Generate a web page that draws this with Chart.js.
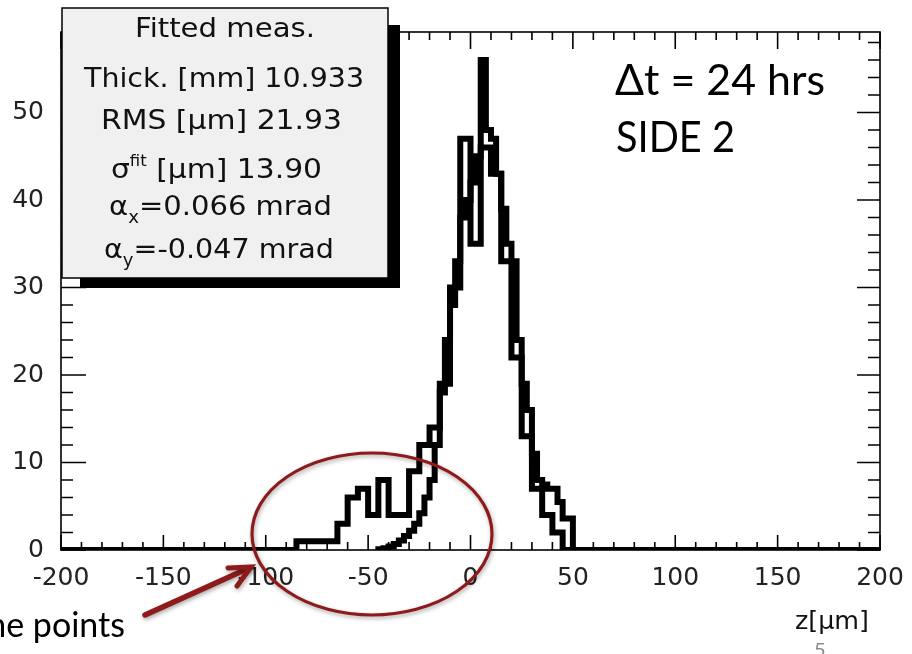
<!DOCTYPE html>
<html>
<head>
<meta charset="utf-8">
<script src="https://cdn.jsdelivr.net/npm/chart.js@4.4.1/dist/chart.umd.min.js"></script>
<style>
  html, body { margin: 0; padding: 0; background: #fff; }
  #wrap { width: 912px; height: 654px; }
</style>
</head>
<body>
<div id="wrap"><canvas id="zhist" width="912" height="654"></canvas></div>
<script>
// z residuals, measured points: 5 um bins from -200 to 200
const binStartA = -200;
const binWidthA = 5;
const countsA = [
  0, 0, 0, 0, 0, 0, 0, 0, 0, 0,
  0, 0, 0, 0, 0, 0, 0, 0, 0, 0,
  0, 0, 0, 1, 1, 1, 1, 3, 6, 7,
  4, 8, 4, 4, 9, 12, 14, 19, 30, 47,
  35, 46, 43, 33, 22, 13, 7, 4, 2, 0,
  0, 0, 0, 0, 0, 0, 0, 0, 0, 0,
  0, 0, 0, 0, 0, 0, 0, 0, 0, 0,
  0, 0, 0, 0, 0, 0, 0, 0, 0, 0
];

// fitted measurement: 2.5 um bins from -45 to 50
const binStartB = -45;
const binWidthB = 2.5;
const countsB = [
  0.1, 0.2, 0.4, 0.7, 1.1, 1.6, 2.2, 3.0, 4.2, 6.0,
  8, 12, 18, 24, 28, 33, 38, 40, 42, 45,
  56, 48, 47, 43, 39, 35, 33, 24, 19, 16,
  11, 8, 7.5, 7, 7, 5.5, 3.6, 3.6
];

const xTickValues = [-200, -150, -100, -50, 0, 50, 100, 150, 200];
const yTickValues = [0, 10, 20, 30, 40, 50];
const zRange = [-200, 200];
const yMax = 59.2;

const statLines = [
  [{ t: 'Fitted meas.' }],
  [{ t: 'Thick. [mm] 10.933' }],
  [{ t: 'RMS [\u00b5m] 21.93' }],
  [{ t: '\u03c3' }, { t: 'fit', size: 15, dy: -12 }, { t: ' [\u00b5m] 13.90' }],
  [{ t: '\u03b1' }, { t: 'x', size: 17, dy: 8 }, { t: '=0.066 mrad' }],
  [{ t: '\u03b1' }, { t: 'y', size: 17, dy: 8 }, { t: '=-0.047 mrad' }]
];

// histogram outline as a stepped polyline through the bin edges
// ('before' draws the horizontal part first, so each count spans its own bin)
function stepPoints(start, width, counts) {
  const pts = [{ x: start, y: 0 }];
  counts.forEach((c, i) => pts.push({ x: start + i * width, y: c }));
  const end = start + counts.length * width;
  pts.push({ x: end, y: counts[counts.length - 1] });
  pts.push({ x: end, y: 0 });
  return pts;
}

// draws a run of text pieces squeezed or stretched to a given width
function drawFitted(ctx, parts, family, baseSize, left, base, width) {
  const widths = parts.map(p => {
    ctx.font = (p.size || baseSize) + 'px ' + family;
    return ctx.measureText(p.t).width;
  });
  const total = widths.reduce((s, w) => s + w, 0);
  ctx.save();
  ctx.translate(left, base);
  ctx.scale(width / total, 1);
  ctx.textAlign = 'left';
  ctx.textBaseline = 'alphabetic';
  let cx = 0;
  parts.forEach((p, i) => {
    ctx.font = (p.size || baseSize) + 'px ' + family;
    ctx.fillText(p.t, cx, p.dy || 0);
    cx += widths[i];
  });
  ctx.restore();
}

const frameTicks = {
  id: 'frameTicks',
  afterDatasetsDraw(chart) {
    const { ctx, chartArea: a, scales: { x, y } } = chart;
    ctx.save();
    ctx.strokeStyle = '#000';
    ctx.lineWidth = 1.6;
    ctx.strokeRect(a.left, a.top, a.right - a.left, a.bottom - a.top);
    ctx.beginPath();
    for (let v = zRange[0]; v <= zRange[1]; v += 10) {
      const px = x.getPixelForValue(v);
      const major = v % 50 === 0;
      ctx.moveTo(px, a.bottom); ctx.lineTo(px, a.bottom - (major ? 15 : 8));
      ctx.moveTo(px, a.top); ctx.lineTo(px, a.top + (major ? 17 : 8));
    }
    for (let v = 0; v < yMax; v += 2) {
      const py = y.getPixelForValue(v);
      const major = v % 10 === 0;
      ctx.moveTo(a.left, py); ctx.lineTo(a.left + (major ? 25 : 12), py);
      ctx.moveTo(a.right, py); ctx.lineTo(a.right - (major ? 23 : 12), py);
    }
    ctx.stroke();
    ctx.restore();
  },
  afterDraw(chart) {
    const { ctx } = chart;
    ctx.save();

    // stats box with its drop shadow
    ctx.fillStyle = '#000';
    ctx.fillRect(388, 25, 12, 263);
    ctx.fillRect(80, 278, 320, 10);
    ctx.fillStyle = '#f0f0f0';
    ctx.fillRect(62, 8, 326, 270);
    ctx.strokeStyle = '#000';
    ctx.lineWidth = 1.5;
    ctx.strokeRect(62, 8, 326, 270);
    ctx.fillStyle = '#111';
    const boxes = [[135, 37, 180], [84, 87, 280], [101, 129, 241], [111, 178, 211], [109, 215, 223], [104, 258, 230]];
    statLines.forEach((parts, i) => {
      const [l, b, w] = boxes[i];
      drawFitted(ctx, parts, '"DejaVu Sans"', 27, l, b, w);
    });

    // axis title and slide number
    drawFitted(ctx, [{ t: 'z[\u00b5m]' }], '"DejaVu Sans"', 24, 795, 629, 74);
    ctx.fillStyle = '#888';
    ctx.font = '20px Lato';
    ctx.fillText('5', 814, 657);

    // annotation text
    ctx.fillStyle = '#000';
    drawFitted(ctx, [{ t: '\u0394t = 24 hrs' }], 'Lato', 43, 615, 95, 210);
    drawFitted(ctx, [{ t: 'SIDE 2' }], 'Lato', 43, 616, 152, 119);
    ctx.font = '34px Lato';
    ctx.textAlign = 'right';
    ctx.fillText('ne points', 125, 637);
    ctx.textAlign = 'left';

    // red ellipse around the tail and arrow pointing at it
    const red = '#8e1b1b';
    ctx.shadowColor = 'rgba(0,0,0,0.35)';
    ctx.shadowBlur = 4;
    ctx.shadowOffsetX = 1;
    ctx.shadowOffsetY = 2;
    ctx.strokeStyle = red;
    ctx.lineWidth = 3.2;
    ctx.beginPath();
    ctx.ellipse(372, 534, 120, 81, 0, 0, Math.PI * 2);
    ctx.stroke();

    ctx.lineWidth = 5.5;
    ctx.lineCap = 'round';
    ctx.beginPath();
    ctx.moveTo(145, 615);
    ctx.lineTo(249, 568);
    ctx.stroke();
    ctx.lineWidth = 5;
    ctx.beginPath();
    ctx.moveTo(228, 568);
    ctx.lineTo(251, 567);
    ctx.lineTo(237, 586);
    ctx.stroke();
    ctx.restore();
  }
};

const tickFont = { family: '"DejaVu Sans"', size: 25 };

new Chart(document.getElementById('zhist'), {
  type: 'line',
  data: {
    datasets: [
      {
        label: 'measured',
        data: stepPoints(binStartA, binWidthA, countsA),
        stepped: 'before',
        borderColor: '#000',
        borderWidth: 6,
        pointRadius: 0,
        fill: false
      },
      {
        label: 'fitted',
        data: stepPoints(binStartB, binWidthB, countsB),
        stepped: 'before',
        borderColor: '#000',
        borderWidth: 6,
        pointRadius: 0,
        fill: false
      }
    ]
  },
  options: {
    responsive: false,
    animation: false,
    layout: { padding: { top: 32, right: 32, left: 0, bottom: 0 } },
    plugins: { legend: { display: false }, tooltip: { enabled: false } },
    scales: {
      x: {
        type: 'linear',
        min: zRange[0],
        max: zRange[1],
        grid: { display: false },
        border: { display: false },
        ticks: { font: tickFont, color: '#222', padding: 5, maxRotation: 0 },
        afterBuildTicks: s => { s.ticks = xTickValues.map(v => ({ value: v })); },
        afterFit: s => { s.height = 104; }
      },
      y: {
        type: 'linear',
        min: 0,
        max: yMax,
        grid: { display: false },
        border: { display: false },
        ticks: { font: tickFont, color: '#222', padding: 9 },
        afterBuildTicks: s => { s.ticks = yTickValues.map(v => ({ value: v })); },
        afterFit: s => { s.width = 61; }
      }
    }
  },
  plugins: [frameTicks]
});
</script>
</body>
</html>
